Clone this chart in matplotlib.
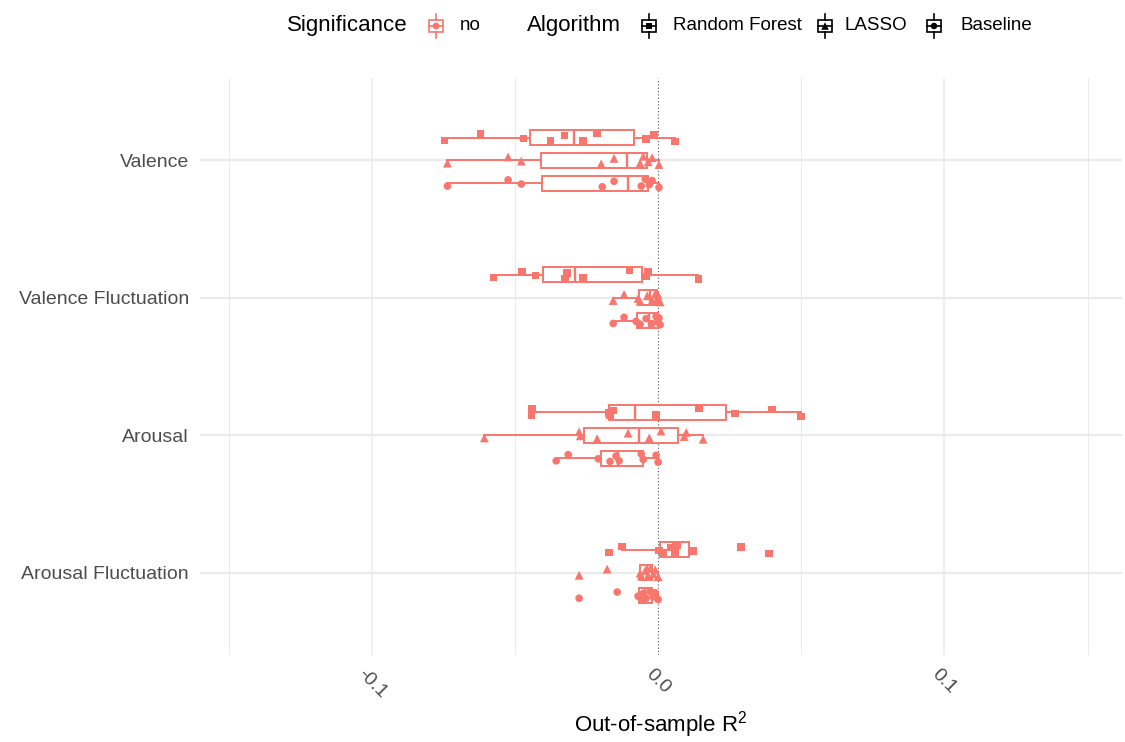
import numpy as np
import matplotlib
matplotlib.use("Agg")
import matplotlib.pyplot as plt
from matplotlib.patches import Rectangle

plt.rcParams['font.family'] = ['Liberation Sans', 'DejaVu Sans']

# categories (top to bottom) and algorithms
outcomes = ["Valence", "Valence Fluctuation", "Arousal", "Arousal Fluctuation"]
algorithms = ["Random Forest", "LASSO", "Baseline"]

# out-of-sample R2 per fold
valence_rf = [-0.0747, -0.0621, -0.0471, -0.0377, -0.0328, -0.0262, -0.0213, -0.0042, -0.0014, 0.0059]
valence_lasso = [-0.0736, -0.0524, -0.0478, -0.0199, -0.0154, -0.0063, -0.0052, -0.0035, -0.0021, 0.0003]
valence_base = [-0.0736, -0.0524, -0.0478, -0.0195, -0.0154, -0.0059, -0.0045, -0.0031, -0.0021, 0.0003]

valfluc_rf = [-0.0576, -0.0475, -0.0429, -0.0325, -0.0318, -0.0262, -0.0101, -0.0042, -0.0035, 0.0140]
valfluc_lasso = [-0.0157, -0.0119, -0.0070, -0.0063, -0.0038, -0.0021, -0.0010, -0.0003, 0.0000, 0.0007]
valfluc_base = [-0.0157, -0.0119, -0.0077, -0.0063, -0.0042, -0.0021, -0.0007, 0.0000, 0.0003, 0.0007]

arousal_rf = [-0.0443, -0.0440, -0.0171, -0.0168, -0.0157, -0.0007, 0.0143, 0.0269, 0.0398, 0.0499]
arousal_lasso = [-0.0607, -0.0276, -0.0272, -0.0213, -0.0105, -0.0031, 0.0010, 0.0091, 0.0098, 0.0157]
arousal_base = [-0.0356, -0.0314, -0.0209, -0.0168, -0.0147, -0.0136, -0.0059, -0.0052, -0.0007, 0.0000]

arofluc_rf = [-0.0171, -0.0126, 0.0003, 0.0017, 0.0045, 0.0059, 0.0066, 0.0122, 0.0290, 0.0387]
arofluc_lasso = [-0.0276, -0.0178, -0.0063, -0.0059, -0.0045, -0.0035, -0.0028, -0.0017, -0.0010, 0.0000]
arofluc_base = [-0.0276, -0.0143, -0.0070, -0.0059, -0.0052, -0.0042, -0.0028, -0.0017, -0.0010, 0.0000]

results = [
    [valence_rf, valence_lasso, valence_base],
    [valfluc_rf, valfluc_lasso, valfluc_base],
    [arousal_rf, arousal_lasso, arousal_base],
    [arofluc_rf, arofluc_lasso, arofluc_base],
]

red = "#F8766D"
markers = ["s", "^", "o"]
msizes = [28, 40, 30]
dodge = [-0.1667, 0.0, 0.1667]
jit = np.array([0.02, -0.025, 0.005, 0.025, -0.015, 0.02, -0.03, 0.01, -0.02, 0.03])

fig = plt.figure(figsize=(11.25, 7.42), dpi=100)
ax = fig.add_axes([200 / 1125, 1 - 655 / 742, 922 / 1125, (655 - 78) / 742])

# grid
for xv in [-0.15, -0.05, 0.05, 0.15]:
    ax.axvline(xv, color="#EBEBEB", lw=0.7, zorder=0)
for xv in [-0.1, 0.1]:
    ax.axvline(xv, color="#EBEBEB", lw=1.1, zorder=0)
for i in range(len(outcomes)):
    ax.axhline(i, color="#EBEBEB", lw=1.6, zorder=0)
ax.axvline(0, color="#555555", lw=0.8, ls=(0, (1, 2)), zorder=1)

for i, group in enumerate(results):
    for j, vals in enumerate(group):
        pos = i + dodge[j]
        ax.boxplot([vals], positions=[pos], widths=0.11, orientation="horizontal",
                   whis=1.5, showfliers=False, showcaps=False, patch_artist=True,
                   boxprops=dict(facecolor="white", edgecolor=red, lw=1.4),
                   whiskerprops=dict(color=red, lw=1.4),
                   medianprops=dict(color=red, lw=1.7),
                   manage_ticks=False, zorder=2)
        ax.scatter(vals, pos + jit[:len(vals)], marker=markers[j], s=msizes[j],
                   color=red, edgecolors="none", zorder=3)

ax.set_xlim(-0.16, 0.162)
ax.set_ylim(3.6, -0.6)
ax.set_yticks(range(len(outcomes)))
ax.set_yticklabels(outcomes)
ax.set_xticks([-0.1, 0.0, 0.1])
ax.set_xticklabels(["-0.1", "0.0", "0.1"], rotation=-45)
ax.tick_params(axis="both", length=0, colors="#4D4D4D", labelsize=14)
ax.tick_params(axis="y", pad=8)
ax.tick_params(axis="x", pad=8)
for s in ax.spines.values():
    s.set_visible(False)
ax.set_xlabel(r"Out-of-sample R$^\mathregular{2}$", fontsize=16, labelpad=5)

# legend drawn in pixel coordinates
lg = fig.add_axes([0, 0, 1, 1])
lg.set_xlim(0, 1125)
lg.set_ylim(742, 0)
lg.axis("off")


def key(cx, cy, color, marker, size):
    lg.add_patch(Rectangle((cx - 7, cy - 6), 14, 12, facecolor="white",
                           edgecolor=color, lw=1.2))
    lg.plot([cx, cx], [cy - 12, cy - 6], color=color, lw=1.2)
    lg.plot([cx, cx], [cy + 6, cy + 12], color=color, lw=1.2)
    lg.plot([cx - 7, cx + 7], [cy, cy], color=color, lw=1.2)
    lg.scatter([cx], [cy], marker=marker, s=size, color=color, edgecolors="none", zorder=5)


cy = 26
lg.text(287, cy, "Significance", fontsize=16, va="center", ha="left")
key(436, cy, red, "o", 24)
lg.text(460, cy, "no", fontsize=13.5, va="center", ha="left")
lg.text(527, cy, "Algorithm", fontsize=16, va="center", ha="left")
kx = [649, 825, 934]
tx = [673, 845, 960]
for k in range(3):
    key(kx[k], cy, "black", markers[k], [22, 30, 22][k])
    lg.text(tx[k], cy, algorithms[k], fontsize=13.5, va="center", ha="left")

fig.savefig("out.png", dpi=100)
